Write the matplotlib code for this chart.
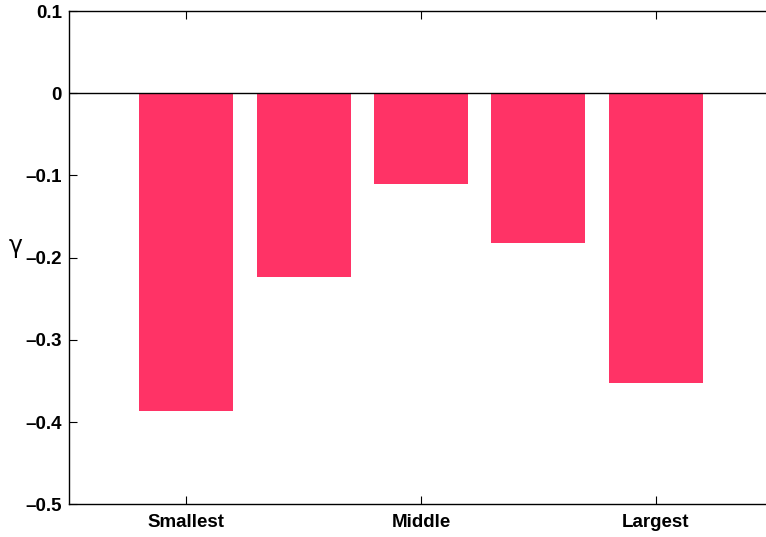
import numpy as np
import matplotlib
matplotlib.use('Agg')
import matplotlib.pyplot as plt

plt.rcParams['font.family'] = ['Liberation Sans', 'DejaVu Sans']
plt.rcParams['font.weight'] = 'bold'

# 数据
positions = [1, 2, 3, 4, 5]
gamma = [-0.387, -0.223, -0.110, -0.182, -0.353]
tick_pos = [1, 3, 5]
tick_labels = ['Smallest', 'Middle', 'Largest']
y_ticks = [-0.5, -0.4, -0.3, -0.2, -0.1, 0, 0.1]

fig = plt.figure(figsize=(7.66, 5.37), dpi=100)
ax = fig.add_axes([0.0901, 0.0609, 0.919, 0.9186])

ax.bar(positions, gamma, width=0.8, color='#FF3366', edgecolor='none', zorder=2)
ax.axhline(0, color='black', linewidth=1, zorder=3)

ax.set_xlim(0, 6)
ax.set_ylim(-0.5, 0.1)
ax.set_xticks(tick_pos)
ax.set_xticklabels(tick_labels, fontsize=13.5, fontweight='bold')
ax.set_yticks(y_ticks)
ax.set_yticklabels(['0' if v == 0 else f'{v:.1f}'.replace('-', '\u2013') for v in y_ticks],
                   fontsize=13.5, fontweight='bold')
ax.tick_params(direction='in', length=6, width=0.8, top=True, right=False)
ax.tick_params(axis='x', pad=7)
ax.tick_params(axis='y', pad=5)
for s in ax.spines.values():
    s.set_linewidth(1)

ax.set_ylabel('\u03b3', rotation=0, fontsize=17, fontweight='normal',
              family=['DejaVu Sans'])
ax.yaxis.set_label_coords(-0.076, 0.5)

fig.savefig('out.png', dpi=100)
